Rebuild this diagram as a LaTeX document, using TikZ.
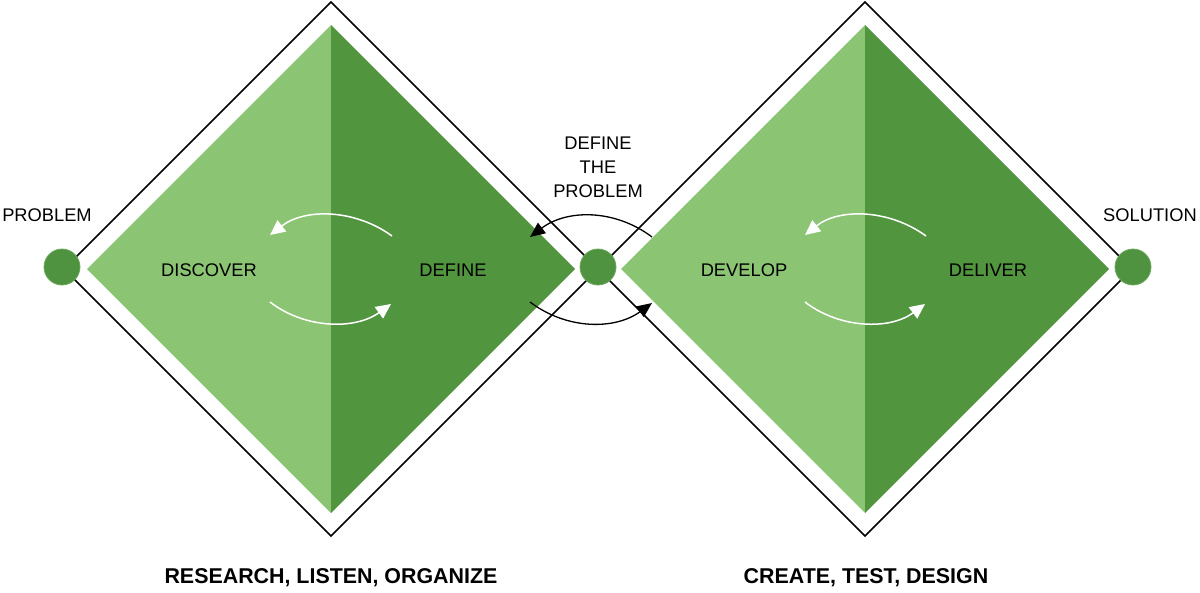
\documentclass[tikz,border=0pt]{standalone}
\usepackage{fontspec}
\setmainfont{Liberation Sans}
\usetikzlibrary{arrows.meta}
\definecolor{lightg}{HTML}{8BC573}
\definecolor{darkg}{HTML}{52953F}
\definecolor{dotg}{HTML}{4F9240}
\definecolor{dotedge}{HTML}{6BA85B}
\tikzset{
  outline/.style={draw=black,line width=1.5pt,line join=miter},
  dot/.style={circle,fill=dotg,draw=dotedge,line width=0.8pt,minimum size=36pt,inner sep=0pt},
  lbl/.style={font=\fontsize{18.3}{20}\selectfont,text=black,inner sep=0pt},
  bottomlbl/.style={font=\fontsize{21.4}{24}\selectfont\bfseries,text=black,inner sep=0pt},
  whitearrow/.style={draw=white,line width=1.5pt,-{Triangle[length=15pt,width=14pt,fill=white]}},
  blackarrow/.style={draw=black,line width=1.3pt,-{Triangle[length=15pt,width=13pt,fill=black]}}
}
\begin{document}
\begin{tikzpicture}[x=1pt,y=-1pt]
\useasboundingbox (0,0) rectangle (1200,592);
% outline diamonds
\draw[outline] (64,269) -- (331,2) -- (598,269) -- (331,536) -- cycle;
\draw[outline] (598,269) -- (865,2) -- (1132,269) -- (865,536) -- cycle;
% filled diamonds, left
\fill[lightg] (87,269) -- (331,25) -- (331,513) -- cycle;
\fill[darkg] (331,25) -- (575,269) -- (331,513) -- cycle;
% filled diamonds, right
\fill[lightg] (621,269) -- (865,25) -- (865,513) -- cycle;
\fill[darkg] (865,25) -- (1109,269) -- (865,513) -- cycle;
% dots
\node[dot] (start) at (62,267) {};
\node[dot] (mid) at (598,267) {};
\node[dot] (end) at (1133,267) {};
% labels
\node[lbl] (problem) at (47,215) {PROBLEM};
\node[lbl] (solution) at (1150,215) {SOLUTION};
\node[lbl] (discover) at (209,270) {DISCOVER};
\node[lbl] (define) at (453,270) {DEFINE};
\node[lbl] (develop) at (744,270) {DEVELOP};
\node[lbl] (deliver) at (988,270) {DELIVER};
\node[lbl,align=center,font=\fontsize{18.3}{24}\selectfont] (dtp) at (598,167) {DEFINE\\THE\\PROBLEM};
\node[bottomlbl] (research) at (331,578) {RESEARCH, LISTEN, ORGANIZE};
\node[bottomlbl] (create) at (866,578) {CREATE, TEST, DESIGN};
% arc end coordinates
\coordinate (l1a) at (392,236); \coordinate (l1b) at (270,235);
\coordinate (l2a) at (270,302); \coordinate (l2b) at (391,304);
\coordinate (r1a) at (926,236); \coordinate (r1b) at (805,235);
\coordinate (r2a) at (805,302); \coordinate (r2b) at (925,304);
\coordinate (c1a) at (652,237); \coordinate (c1b) at (530,237);
\coordinate (c2a) at (530,302); \coordinate (c2b) at (652,303);
% white arcs
\draw[whitearrow] (l1a) .. controls (355,209) and (305,208) .. (l1b);
\draw[whitearrow] (l2a) .. controls (305,329) and (355,330) .. (l2b);
\draw[whitearrow] (r1a) .. controls (889,209) and (839,208) .. (r1b);
\draw[whitearrow] (r2a) .. controls (840,329) and (890,330) .. (r2b);
% black arcs
\draw[blackarrow] (c1a) .. controls (615,209) and (567,209) .. (c1b);
\draw[blackarrow] (c2a) .. controls (567,330) and (615,330) .. (c2b);
\end{tikzpicture}
\end{document}
